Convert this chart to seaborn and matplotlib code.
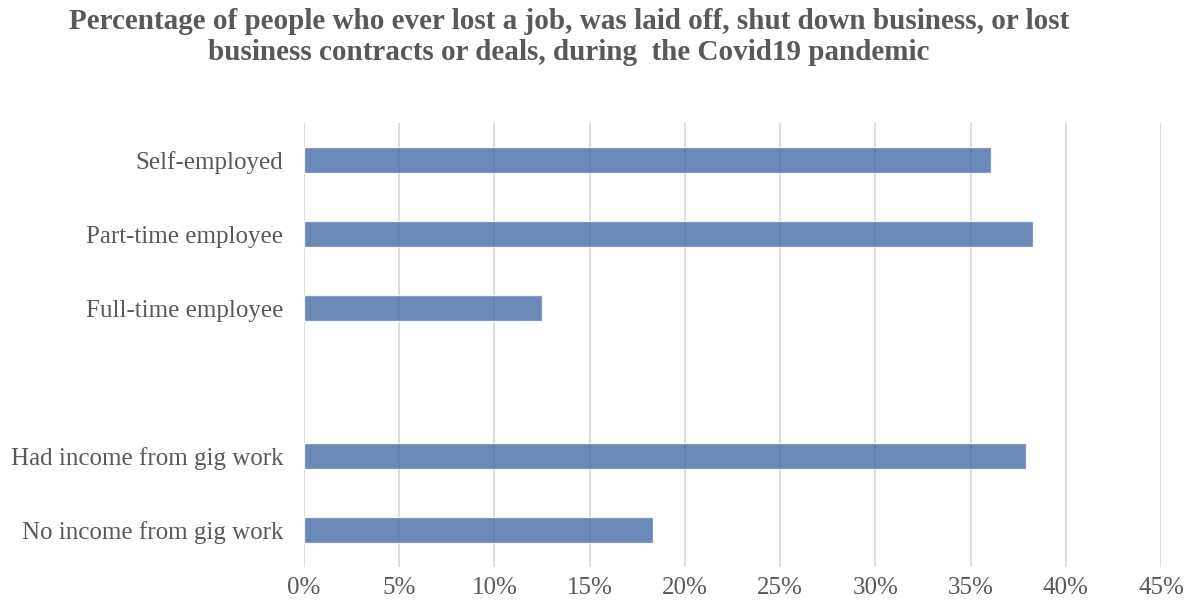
import matplotlib
matplotlib.use("Agg")
import matplotlib.pyplot as plt
import seaborn as sns
import pandas as pd
from matplotlib.ticker import FuncFormatter, MultipleLocator

categories = ["Self-employed", "Part-time employee", "Full-time employee",
              "Had income from gig work", "No income from gig work"]
values = [36.1, 38.3, 12.5, 37.9, 18.3]
order = ["Self-employed", "Part-time employee", "Full-time employee", " ",
         "Had income from gig work", "No income from gig work"]

sns.set_theme(style="white")
plt.rcParams["font.family"] = ["Liberation Serif", "DejaVu Serif"]

df = pd.DataFrame({"category": categories, "value": values})

fig = plt.figure(figsize=(11.9, 6.03), dpi=100)
ax = fig.add_axes([0.2555, 0.0597, 0.9756 - 0.2555, 0.796 - 0.0597])

sns.barplot(data=df, y="category", x="value", order=order, color="#4a6fa8",
            alpha=0.82, width=0.36, ax=ax, zorder=3, saturation=1)

ax.set_xlim(0, 45)
ax.set_ylim(5.5, -0.5)
ax.xaxis.set_major_locator(MultipleLocator(5))
ax.xaxis.set_major_formatter(FuncFormatter(lambda v, p: f"{v:.0f}%"))
ax.grid(axis="x", color="#d9d9d9", linewidth=1.3, zorder=0)
ax.set_axisbelow(True)
for s in ax.spines.values():
    s.set_visible(False)
ax.set_xlabel("")
ax.set_ylabel("")
ax.tick_params(axis="both", length=0, labelsize=18, labelcolor="#595959")
ax.tick_params(axis="y", pad=15)
ax.tick_params(axis="x", pad=7)

fig.suptitle("Percentage of people who ever lost a job, was laid off, shut down business, or lost\n"
             "business contracts or deals, during  the Covid19 pandemic",
             x=0.478, y=0.987, fontsize=21, fontweight="bold", color="#595959",
             linespacing=1.22)

fig.savefig("out.png", dpi=100)
